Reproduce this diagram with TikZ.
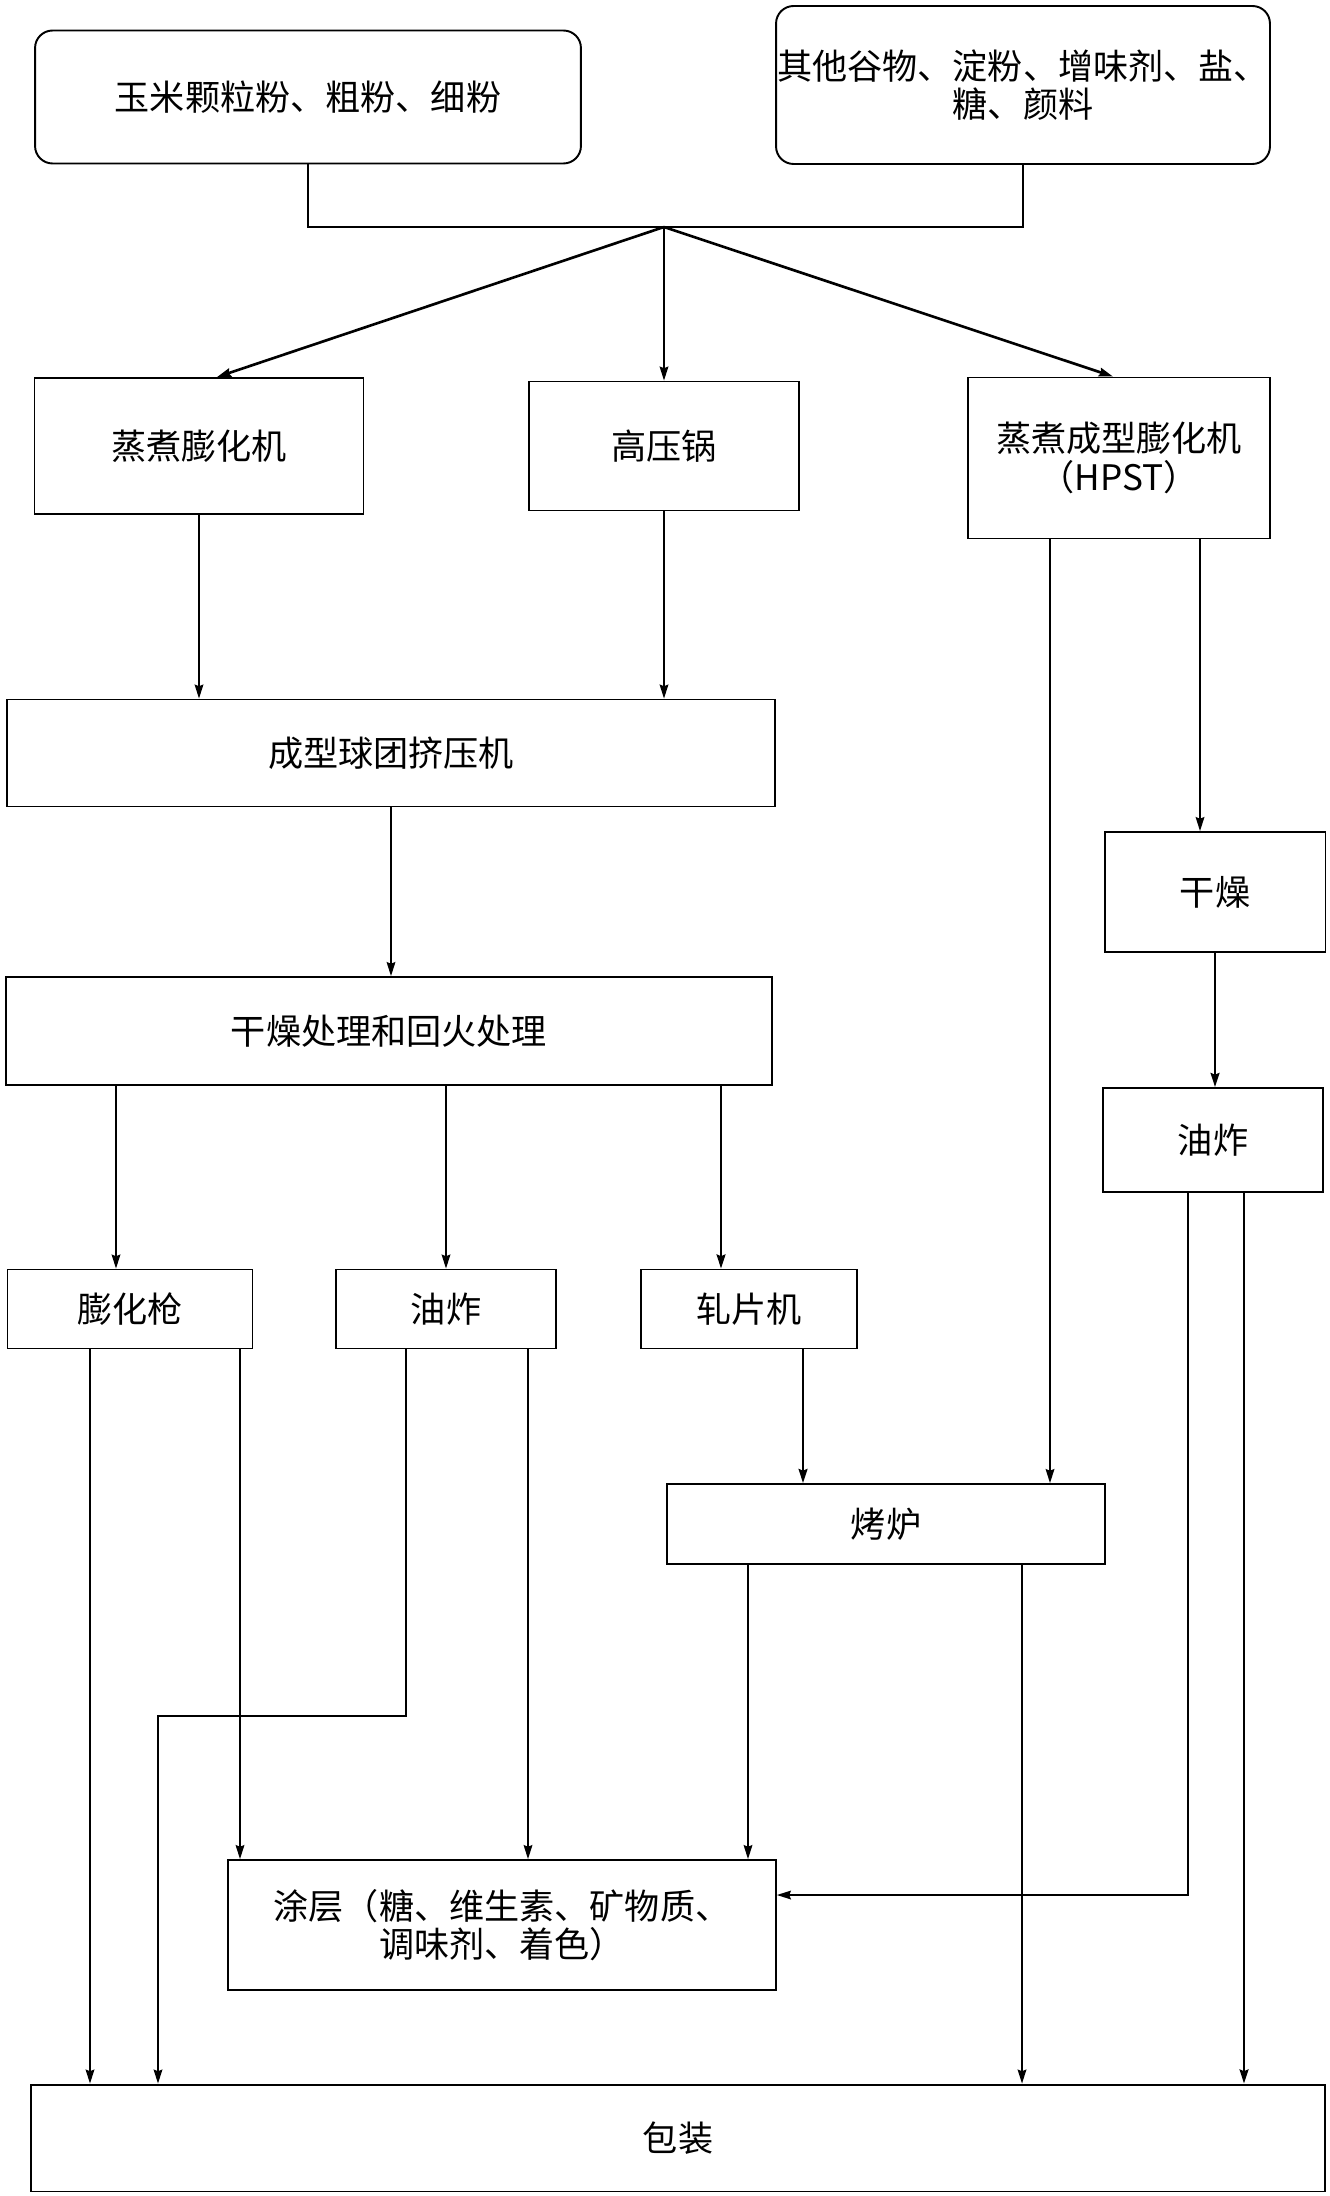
\documentclass[tikz,border=0pt]{standalone}
\usepackage{fontspec}
\setmainfont{Noto Sans CJK SC}
\usepackage{tikz}
\usetikzlibrary{arrows.meta}

\tikzset{
	box/.style={draw, line width=1.1pt, align=center, inner sep=0pt,
		font=\fontsize{20}{22}\selectfont},
	src/.style={box, rounded corners=0.35cm},
	flow/.style={-{Stealth[length=8pt,width=5pt,inset=1pt]}, line width=0.8pt},
	flowthick/.style={flow, line width=1.5pt}
}

\begin{document}
\begin{tikzpicture}[x=0.02cm, y=-0.02cm]
	\useasboundingbox (0,0) rectangle (1329,2196);

	\node[src, minimum width=10.92cm, minimum height=2.66cm] (grits) at (308,97) {玉米颗粒粉、粗粉、细粉};
	\node[src, minimum width=9.88cm, minimum height=3.16cm] (others) at (1023,85) {其他谷物、淀粉、增味剂、盐、\\糖、颜料};

	\node[box, minimum width=6.58cm, minimum height=2.72cm] (cooker) at (199,446) {蒸煮膨化机};
	\node[box, minimum width=5.4cm, minimum height=2.58cm] (autoclave) at (664,446) {高压锅};
	\node[box, minimum width=6.04cm, minimum height=3.22cm] (hpst) at (1119,458) {蒸煮成型膨化机\\（HPST）};

	\node[box, minimum width=15.38cm, minimum height=2.14cm] (pellet) at (391,753) {成型球团挤压机};
	\node[box, minimum width=4.42cm, minimum height=2.4cm] (dryR) at (1215,892) {干燥};
	\node[box, minimum width=15.34cm, minimum height=2.16cm] (temper) at (389,1031) {干燥处理和回火处理};
	\node[box, minimum width=4.4cm, minimum height=2.08cm] (fryR) at (1213,1140) {油炸};

	\node[box, minimum width=4.9cm, minimum height=1.58cm] (puffgun) at (130,1309) {膨化枪};
	\node[box, minimum width=4.4cm, minimum height=1.58cm] (fryM) at (446,1309) {油炸};
	\node[box, minimum width=4.32cm, minimum height=1.58cm] (flaker) at (749,1309) {轧片机};
	\node[box, minimum width=8.76cm, minimum height=1.6cm] (oven) at (886,1524) {烤炉};

	\node[box, minimum width=10.96cm, minimum height=2.6cm] (coat) at (502,1925) {涂层（糖、维生素、矿物质、\\调味剂、着色）};
	\node[box, minimum width=25.88cm, minimum height=2.14cm] (pack) at (678,2138) {包装};

	\coordinate (mix) at (664,227);
	\draw[line width=1.1pt] (grits.south) |- (mix) -| (others.south);
	\draw[flowthick] (mix) -- (217,0 |- cooker.north);
	\draw[flow] (mix) -- (autoclave.north);
	\draw[flowthick] (mix) -- (1113,0 |- hpst.north);

	\draw[flow] (cooker.south) -- (cooker.south |- pellet.north);
	\draw[flow] (autoclave.south) -- (autoclave.south |- pellet.north);
	\draw[flow] (1200,0 |- hpst.south) -- (1200,0 |- dryR.north);
	\draw[flow] (1050,0 |- hpst.south) -- (1050,0 |- oven.north);

	\draw[flow] (pellet.south) -- (pellet.south |- temper.north);
	\draw[flowthick] (dryR.south) -- (dryR.south |- fryR.north);

	\draw[flow] (116,0 |- temper.south) -- (116,0 |- puffgun.north);
	\draw[flow] (fryM.north |- temper.south) -- (fryM.north);
	\draw[flowthick] (721,0 |- temper.south) -- (721,0 |- flaker.north);

	\draw[flow] (90,0 |- puffgun.south) -- (90,0 |- pack.north);
	\draw[flow] (240,0 |- puffgun.south) -- (240,0 |- coat.north);
	\draw[flow] (406,0 |- fryM.south) |- (158,1716) -- (158,0 |- pack.north);
	\draw[flow] (528,0 |- fryM.south) -- (528,0 |- coat.north);
	\draw[flowthick] (803,0 |- flaker.south) -- (803,0 |- oven.north);

	\draw[flow] (748,0 |- oven.south) -- (748,0 |- coat.north);
	\draw[flow] (1022,0 |- oven.south) -- (1022,0 |- pack.north);
	\draw[flow] (1188,0 |- fryR.south) |- (coat.east |- 0,1895);
	\draw[flowthick] (1244,0 |- fryR.south) -- (1244,0 |- pack.north);
\end{tikzpicture}
\end{document}
